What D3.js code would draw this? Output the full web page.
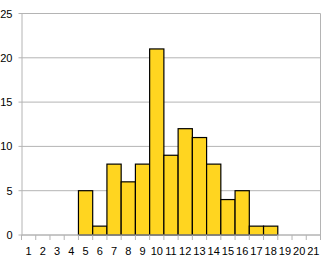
<!DOCTYPE html>
<html>
<head>
<meta charset="utf-8">
<script src="https://cdn.jsdelivr.net/npm/d3@7"></script>
<style>
  body { margin: 0; background: #fff; }
  svg { display: block; font-family: "Liberation Sans", Arial, sans-serif; }
</style>
</head>
<body>
<svg id="chart" width="323" height="262"></svg>
<script>
// bins 1..21, counts per bin
const bins = d3.range(1, 22).map(String);
const counts = [0, 0, 0, 0, 5, 1, 8, 6, 8, 21, 9, 12, 11, 8, 4, 5, 1, 1, 0, 0, 0];
const yTicks = [0, 5, 10, 15, 20, 25];

const svg = d3.select('#chart');
const margin = { top: 13.5, right: 2.5, bottom: 27, left: 21.5 };
const width = +svg.attr('width') - margin.left - margin.right;
const height = +svg.attr('height') - margin.top - margin.bottom;
const g = svg.append('g').attr('transform', `translate(${margin.left},${margin.top})`);

const x = d3.scaleBand().domain(bins).range([0, width]).padding(0);
const y = d3.scaleLinear().domain([0, 25]).range([height, 0]);

// gridlines
g.append('g')
  .selectAll('line')
  .data(yTicks)
  .enter()
  .append('line')
  .attr('x1', -3)
  .attr('x2', width)
  .attr('y1', d => y(d))
  .attr('y2', d => y(d))
  .attr('stroke', '#b4b4b4')
  .attr('stroke-width', 1);

// right border
g.append('line')
  .attr('x1', width).attr('x2', width)
  .attr('y1', 0).attr('y2', height)
  .attr('stroke', '#b4b4b4');

// bars
g.append('g')
  .selectAll('rect')
  .data(bins.map((b, i) => ({ b, v: counts[i] })).filter(d => d.v > 0))
  .enter()
  .append('rect')
  .attr('x', d => x(d.b))
  .attr('y', d => y(d.v))
  .attr('width', x.bandwidth())
  .attr('height', d => height - y(d.v))
  .attr('fill', '#ffd520')
  .attr('stroke', '#000')
  .attr('stroke-width', 1.2);

// y axis
const yAxis = g.append('g')
  .call(d3.axisLeft(y).tickValues(yTicks).tickSize(0).tickPadding(9));
yAxis.select('.domain').attr('stroke', '#b4b4b4');
yAxis.selectAll('text').attr('font-size', 11).attr('fill', '#000')
  .attr('font-family', '"Liberation Sans", Arial, sans-serif');

// x axis: ticks at band edges, labels at band centres
const xg = g.append('g').attr('transform', `translate(0,${height})`);
xg.append('line')
  .attr('x1', 0).attr('x2', width)
  .attr('stroke', '#b4b4b4');
xg.selectAll('.tick')
  .data(d3.range(bins.length + 1))
  .enter()
  .append('line')
  .attr('x1', i => (i < bins.length ? x(bins[i]) : width))
  .attr('x2', i => (i < bins.length ? x(bins[i]) : width))
  .attr('y1', 0)
  .attr('y2', 5)
  .attr('stroke', '#b4b4b4');
xg.selectAll('text')
  .data(bins)
  .enter()
  .append('text')
  .attr('x', d => x(d) + x.bandwidth() / 2)
  .attr('y', 20)
  .attr('text-anchor', 'middle')
  .attr('font-size', 11)
  .attr('fill', '#000')
  .text(d => d);
</script>
</body>
</html>
